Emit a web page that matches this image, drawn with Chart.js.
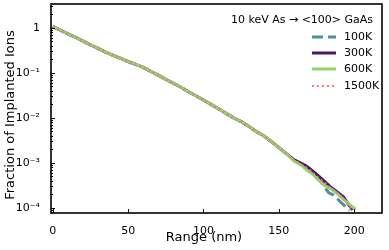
<!DOCTYPE html>
<html>
<head>
<meta charset="utf-8">
<script src="https://cdn.jsdelivr.net/npm/chart.js@4"></script>
<style>
  html, body { margin: 0; padding: 0; background: #fff; }
  #chart1 { display: block; }
</style>
</head>
<body>
<canvas id="chart1" width="389" height="250"></canvas>
<script>
// range values shared by all temperatures (nm)
const rangeCommon = [0,5,10,15,20,25,30,35,40,45,50,55,60,65,70,75,80,85,90,95,100,105,110,115,120,125,130,135,140,145,150,155];
const fracCommon = [1.07,0.89,0.74,0.62,0.51,0.42,0.35,0.29,0.245,0.21,0.178,0.155,0.132,0.108,0.089,0.072,0.059,0.048,0.038,0.031,0.025,0.020,0.016,0.0126,0.0100,0.0083,0.0065,0.0050,0.0040,0.0030,0.0022,0.0016];

// tails where the curves split apart
const tail100K_x = [160,165,170,176,179,183,186,188,191,197];
const tail100K_y = [0.00118,0.00096,0.00073,0.0005,0.00034,0.00022,0.000195,0.00017,0.000135,0.000088];
const tail300K_x = [160,165,168,170,175,180,185,190,193,196,199];
const tail300K_y = [0.00117,0.00098,0.00086,0.00077,0.00056,0.00040,0.00028,0.00021,0.000174,0.000123,0.00009];
const tail600K_x = [160,165,169,172,175,180,185,189,195,201];
const tail600K_y = [0.0011,0.00088,0.00068,0.00058,0.00046,0.00032,0.00026,0.000205,0.000135,0.000093];
const tail1500K_x = [160,165,170,175,180,185,190,195,199];
const tail1500K_y = [0.00117,0.00093,0.00072,0.00051,0.00037,0.00027,0.0002,0.00013,0.00009];

const xTicks = [0, 50, 100, 150, 200];
const yTicks = [1e-4, 1e-3, 1e-2, 1e-1, 1];
const yTickLabels = ['10\u207B\u2074', '10\u207B\u00B3', '10\u207B\u00B2', '10\u207B\u00B9', '1'];
const seriesLabels = ['100K', '300K', '600K', '1500K'];
const legendTitle = '10 keV As \u2192 <100> GaAs';

const FONT = 'DejaVu Sans';

function points(xs, ys) {
  return xs.map((x, i) => ({ x: x, y: ys[i] }));
}

const styles = [
  { color: '#4f8da2', width: 3, dash: [11, 5] },
  { color: '#4a1a68', width: 3, dash: [] },
  { color: '#8fd66c', width: 3, dash: [] },
  { color: '#f57a7e', width: 2, dash: [2, 3] }
];
const tails = [[tail100K_x, tail100K_y], [tail300K_x, tail300K_y], [tail600K_x, tail600K_y], [tail1500K_x, tail1500K_y]];

const datasets = seriesLabels.map((label, i) => ({
  label: label,
  data: points(rangeCommon.concat(tails[i][0]), fracCommon.concat(tails[i][1])),
  borderColor: styles[i].color,
  borderWidth: styles[i].width,
  borderDash: styles[i].dash,
  pointRadius: 0,
  fill: false,
  tension: 0,
  order: 4 - i
}));

// frame, inward ticks, axis titles and legend
const framePlugin = {
  id: 'frame',
  afterDatasetsDraw(chart) {
    const ctx = chart.ctx;
    const a = chart.chartArea;
    const xs = chart.scales.x, ys = chart.scales.y;
    ctx.save();
    ctx.strokeStyle = '#000';
    ctx.lineWidth = 1;
    ctx.beginPath();
    xTicks.forEach(v => {
      const px = Math.round(xs.getPixelForValue(v)) + 0.5;
      ctx.moveTo(px, a.bottom); ctx.lineTo(px, a.bottom - 4);
    });
    for (let d = -5; d <= 0; d++) {
      for (let m = 1; m <= 9; m++) {
        const v = m * Math.pow(10, d);
        if (v < ys.min || v > ys.max) continue;
        const py = Math.round(ys.getPixelForValue(v)) + 0.5;
        ctx.moveTo(a.left, py); ctx.lineTo(a.left + (m === 1 ? 4 : 2), py);
      }
    }
    ctx.stroke();
    ctx.lineWidth = 1.6;
    ctx.strokeRect(a.left, a.top, a.right - a.left, a.bottom - a.top);
    ctx.restore();
  },
  afterDraw(chart) {
    const ctx = chart.ctx;
    ctx.save();
    ctx.fillStyle = '#000';
    ctx.font = '13px ' + FONT;
    ctx.textAlign = 'center';
    ctx.textBaseline = 'middle';
    ctx.fillText('Range (nm)', 204, 238);
    ctx.translate(11, 115);
    ctx.rotate(-Math.PI / 2);
    ctx.fillText('Fraction of Implanted Ions', 0, 0);
    ctx.restore();

    ctx.save();
    ctx.font = '11px ' + FONT;
    ctx.fillStyle = '#000';
    ctx.textBaseline = 'middle';
    ctx.textAlign = 'center';
    ctx.fillText(legendTitle, 302, 20);
    ctx.textAlign = 'left';
    const rows = [37, 53, 69, 86];
    seriesLabels.forEach((label, i) => {
      ctx.beginPath();
      ctx.strokeStyle = styles[i].color;
      ctx.lineWidth = styles[i].width;
      ctx.setLineDash(styles[i].dash);
      ctx.moveTo(312, rows[i]); ctx.lineTo(336, rows[i]);
      ctx.stroke();
      ctx.setLineDash([]);
      ctx.fillText(label, 344, rows[i]);
    });
    ctx.restore();
  }
};

const chart1 = new Chart(document.getElementById('chart1').getContext('2d'), {
  type: 'line',
  data: { datasets: datasets },
  options: {
    responsive: false,
    animation: false,
    layout: { padding: { top: 4, right: 7, left: 0, bottom: 0 } },
    plugins: { legend: { display: false }, tooltip: { enabled: false } },
    scales: {
      x: {
        type: 'linear',
        min: -1.2,
        max: 218.5,
        grid: { display: false },
        border: { display: false },
        afterBuildTicks(scale) { scale.ticks = xTicks.map(v => ({ value: v })); },
        afterFit(scale) { scale.height = 37; scale.paddingLeft = 0; scale.paddingRight = 0; },
        ticks: {
          color: '#000',
          font: { family: FONT, size: 11 },
          padding: 4,
          maxRotation: 0,
          callback: v => String(v)
        }
      },
      y: {
        type: 'logarithmic',
        min: 7.7e-5,
        max: 3.4,
        grid: { display: false },
        border: { display: false },
        afterBuildTicks(scale) { scale.ticks = yTicks.map(v => ({ value: v })); },
        afterFit(scale) { scale.width = 51; scale.paddingTop = 0; scale.paddingBottom = 0; },
        ticks: {
          color: '#000',
          font: { family: FONT, size: 11 },
          padding: 3,
          callback: v => yTickLabels[yTicks.indexOf(v)] || ''
        }
      }
    }
  },
  plugins: [framePlugin]
});
</script>
</body>
</html>
